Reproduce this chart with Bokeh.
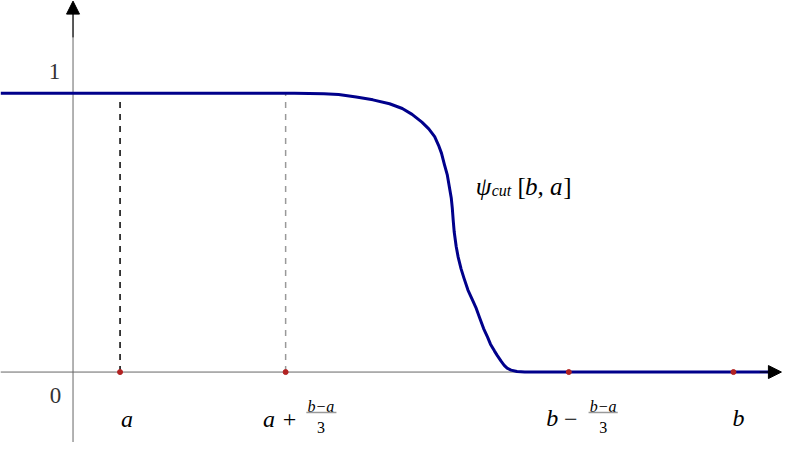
from bokeh.plotting import figure
from bokeh.models import Range1d, Arrow, NormalHead
from bokeh.core.properties import value
from bokeh.embed import file_html
from bokeh.resources import INLINE

# ---- data ----
curve_x = [-1.54, 4.708, 5.333, 5.646, 6.021, 6.375, 6.729, 7.0, 7.208, 7.417, 7.563,
           7.688, 7.771, 7.833, 7.896, 7.958, 8.0, 8.042, 8.063, 8.083, 8.104, 8.146,
           8.188, 8.25, 8.313, 8.396, 8.479, 8.563, 8.646, 8.729, 8.813, 8.875, 8.958,
           9.021, 9.104, 9.167, 9.229, 9.313, 9.438, 9.604, 14.81]
curve_y = [1.0, 1.0, 0.998, 0.995, 0.986, 0.976, 0.962, 0.945, 0.924, 0.896, 0.872,
           0.844, 0.813, 0.785, 0.744, 0.706, 0.664, 0.623, 0.588, 0.543, 0.502, 0.450,
           0.412, 0.370, 0.336, 0.294, 0.263, 0.232, 0.194, 0.156, 0.125, 0.100, 0.076,
           0.059, 0.038, 0.024, 0.014, 0.007, 0.002, 0.0, 0.0]
point_x = [1.0, 4.52, 10.54, 14.04]          # a, a+(b-a)/3, b-(b-a)/3, b
point_y = [0.0, 0.0, 0.0, 0.0]
dash_x = [1.0, 4.52]
dash_top = [0.99, 1.0]
dash_colors = ["#000000", "#999999"]
ytick_vals = [1.0, 0.0]
ytick_labels = ["1", "0"]

FONT = value("Liberation Serif")

p = figure(width=782, height=442, output_backend="svg", toolbar_location=None,
           x_range=Range1d(-1.5417, 15.083), y_range=Range1d(-0.2526, 1.3322),
           min_border=0, outline_line_color=None)
p.axis.visible = False
p.grid.visible = False
p.background_fill_color = "white"
p.border_fill_color = "white"

# axes lines
p.segment(x0=[-1.5417], y0=[0], x1=[15.0], y1=[0], line_color="#666666", line_width=1)
p.segment(x0=[0], y0=[-0.2526], x1=[0], y1=[1.30], line_color="#666666", line_width=1)

# dashed guides
p.segment(x0=dash_x, y0=[0, 0], x1=dash_x, y1=dash_top, line_color=dash_colors,
          line_width=1.5, line_dash="6 6")

# curve
p.line(curve_x, curve_y, line_color="#00008b", line_width=3, line_join="round")

# arrow heads
p.add_layout(Arrow(end=NormalHead(size=13, fill_color="black", line_color="black"),
                   x_start=14.6, y_start=0, x_end=15.06, y_end=0,
                   line_color="black", line_width=1))
p.add_layout(Arrow(end=NormalHead(size=13, fill_color="black", line_color="black"),
                   x_start=0, y_start=1.2, x_end=0, y_end=1.33,
                   line_color="black", line_width=1))

# points
p.scatter(point_x, point_y, size=5, fill_color="#b22222", line_color="#b22222")

# y tick labels
p.text(x=[-0.396, -0.375], y=[1.076, -0.083], text=ytick_labels, text_font=FONT,
       text_font_size="23px", text_color="#333333", text_align="center",
       text_baseline="alphabetic")

# x labels
ital = dict(text_font=FONT, text_font_style="italic", text_color="black",
            text_baseline="alphabetic")
p.text(x=[1.146], y=[-0.170], text=["a"], text_font_size="24px", text_align="center", **ital)
p.text(x=[14.15], y=[-0.165], text=["b"], text_font_size="24px", text_align="center", **ital)

# a + (b-a)/3
p.text(x=[4.04], y=[-0.170], text=["a"], text_font_size="24px", text_align="left", **ital)
p.text(x=[4.60], y=[-0.170], text=["+"], text_font=FONT, text_font_size="24px",
       text_align="center", text_baseline="alphabetic", text_color="black")
p.text(x=[5.27], y=[-0.122], text=["b\u2212a"], text_font_size="16px", text_align="center", **ital)
p.text(x=[5.27], y=[-0.200], text=["3"], text_font=FONT, text_font_size="16px",
       text_align="center", text_baseline="alphabetic", text_color="black")
p.segment(x0=[4.96], y0=[-0.145], x1=[5.60], y1=[-0.145], line_color="#999999", line_width=1.5)

# b - (b-a)/3
p.text(x=[10.06], y=[-0.165], text=["b"], text_font_size="24px", text_align="left", **ital)
p.text(x=[10.58], y=[-0.170], text=["\u2212"], text_font=FONT, text_font_size="24px",
       text_align="center", text_baseline="alphabetic", text_color="black")
p.text(x=[11.27], y=[-0.122], text=["b\u2212a"], text_font_size="16px", text_align="center", **ital)
p.text(x=[11.27], y=[-0.200], text=["3"], text_font=FONT, text_font_size="16px",
       text_align="center", text_baseline="alphabetic", text_color="black")
p.segment(x0=[10.96], y0=[-0.145], x1=[11.58], y1=[-0.145], line_color="#999999", line_width=1.5)

# psi_cut[b, a]
p.text(x=[8.56], y=[0.664], text=["\u03c8"], text_font_size="25px", text_align="left", **ital)
p.text(x=[8.90], y=[0.650], text=["cut"], text_font_size="16px", text_align="left", **ital)
p.text(x=[9.45], y=[0.664], text=["["], text_font=FONT, text_font_size="25px",
       text_align="left", text_baseline="alphabetic", text_color="black")
p.text(x=[9.61], y=[0.664], text=["b, a"], text_font_size="25px", text_align="left", **ital)
p.text(x=[10.42], y=[0.664], text=["]"], text_font=FONT, text_font_size="25px",
       text_align="left", text_baseline="alphabetic", text_color="black")

open("out.html", "w").write(file_html(p, INLINE))
